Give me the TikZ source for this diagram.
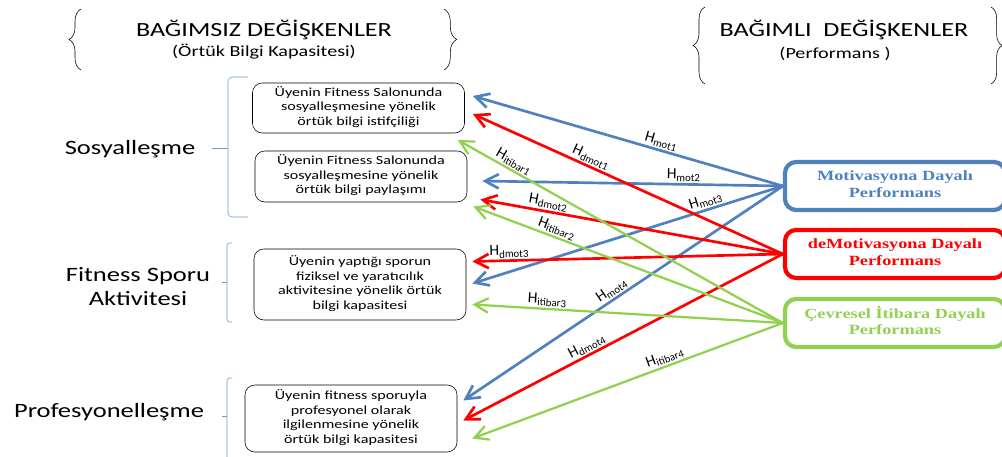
\documentclass[tikz,border=0pt]{standalone}
\usepackage{fontspec}
\setmainfont{Carlito}
\newfontfamily\timesfont{Liberation Serif}
\usepackage{graphicx}
\usetikzlibrary{arrows.meta,calc,decorations.pathreplacing}

\definecolor{motblue}{HTML}{4F81BD}
\definecolor{dmotred}{HTML}{FF0000}
\definecolor{itbgreen}{HTML}{92D050}
\definecolor{brkblue}{HTML}{6A9AD0}

% text in the reference is stretched sideways
\newcommand{\widetxt}[1]{\scalebox{1.3}[1]{\begin{tabular}{@{}c@{}}#1\end{tabular}}}

\tikzset{
  head/.style={inner sep=0pt, font=\fontsize{14.3}{17}\selectfont},
  subhead/.style={inner sep=0pt, font=\fontsize{11}{13}\selectfont},
  grouplab/.style={inner sep=0pt, font=\fontsize{14.5}{17}\selectfont},
  leftbox/.style={draw, thin, rounded corners=7pt, minimum width=5.3cm, inner sep=1pt, font=\fontsize{8.8}{10.3}\selectfont},
  perfbox/.style={draw, line width=3pt, rounded corners=8pt, minimum width=5.5cm, minimum height=1.2cm, inner sep=1pt, font=\timesfont\bfseries\fontsize{10}{12}\selectfont},
  hyp/.style={line width=1.9pt, ->},
  hlab/.style={sloped, above, inner sep=1pt, text=black, font=\fontsize{11}{12}\selectfont},
  brk/.style={draw=brkblue, thin},
  cbrace/.style={decorate, decoration={brace, amplitude=#1}, thin},
}

\begin{document}
\begin{tikzpicture}[x=0.025cm, y=-0.025cm, >={Straight Barb[length=3.4mm,width=3.6mm]}]
  \useasboundingbox (0,0) rectangle (1002,457);

  % headers
  \node[head] (indep) at (264,32) {\widetxt{BAĞIMSIZ DEĞİŞKENLER}};
  \node[subhead] (indepsub) at (264,53) {\widetxt{(Örtük Bilgi Kapasitesi)}};
  \draw[cbrace=8.5pt] (81,70) -- (81,9);
  \draw[cbrace=9pt] (444,9) -- (444,70);
  \node[head] (dep) at (844,32) {\widetxt{BAĞIMLI\ \ DEĞİŞKENLER}};
  \node[subhead] (depsub) at (835,55) {\widetxt{(Performans )}};
  \draw[cbrace=8.5pt] (705,84) -- (705,7);
  \draw[cbrace=8pt] (991,7) -- (991,84);

  % groups on the left
  \node[grouplab] (sos) at (130,150) {\widetxt{Sosyalleşme}};
  \node[grouplab] (fit) at (138,289) {\widetxt{Fitness Sporu\\Aktivitesi}};
  \node[grouplab] (pro) at (109,413) {\widetxt{Profesyonelleşme}};
  \draw[brk, rounded corners=3pt] (248,77) -- (228,77) -- (228,217) -- (248,217);
  \draw[brk] (228,148) -- (212,148);
  \draw[brk, rounded corners=2pt] (232,243) -- (227,243) -- (227,322) -- (232,322);
  \draw[brk] (227,282) -- (222,282);
  \draw[brk, rounded corners=2pt] (232,378) -- (227,378) -- (227,462);
  \draw[brk] (227,416) -- (222,416);

  % knowledge boxes
  \node[leftbox, minimum height=1.25cm] (b1) at (358.5,108)
    {\widetxt{Üyenin Fitness Salonunda\\sosyalleşmesine yönelik\\örtük bilgi istifçiliği}};
  \node[leftbox, minimum height=1.275cm] (b2) at (361,176.5)
    {\widetxt{Üyenin Fitness Salonunda\\sosyalleşmesine yönelik\\örtük bilgi paylaşımı}};
  \node[leftbox, minimum height=1.775cm] (b3) at (360,284.5)
    {\widetxt{Üyenin yaptığı sporun\\fiziksel ve yaratıcılık\\aktivitesine yönelik örtük\\bilgi kapasitesi}};
  \node[leftbox, minimum height=1.675cm] (b4) at (351,418.5)
    {\widetxt{Üyenin fitness sporuyla\\profesyonel olarak\\ilgilenmesine yönelik\\örtük bilgi kapasitesi}};

  % performance boxes
  \node[perfbox, motblue] (mot) at (895,186) {\widetxt{Motivasyona Dayalı\\Performans}};
  \node[perfbox, dmotred] (dmot) at (895,254) {\widetxt{deMotivasyona Dayalı\\Performans}};
  \node[perfbox, itbgreen] (itb) at (895,323) {\widetxt{Çevresel İtibara Dayalı\\Performans}};

  % hypotheses
  \draw[hyp, motblue] (mot.west) -- ($(b1.east)+(8,-12)$) node[hlab, pos=0.4] {H\textsubscript{mot1}};
  \draw[hyp, motblue] (mot.west) -- ($(b2.east)+(15,4.5)$) node[hlab, pos=0.33] {H\textsubscript{mot2}};
  \draw[hyp, motblue] (mot.west) -- ($(b3.east)+(6,-1)$) node[hlab, pos=0.24] {H\textsubscript{mot3}};
  \draw[hyp, motblue] (mot.west) -- ($(b4.east)+(6,-18)$) node[hlab, pos=0.52] {H\textsubscript{mot4}};

  \draw[hyp, dmotred] (dmot.west) -- ($(b1.east)+(8,6)$) node[hlab, pos=0.63] {H\textsubscript{dmot1}};
  \draw[hyp, dmotred] (dmot.west) -- ($(b2.east)+(13,23)$) node[hlab, pos=0.78] {H\textsubscript{dmot2}};
  \draw[hyp, dmotred] (dmot.west) -- ($(b3.east)+(6,-23)$) node[hlab, pos=0.88] {H\textsubscript{dmot3}};
  \draw[hyp, dmotred] (dmot.west) -- ($(b4.east)+(6,2)$) node[hlab, pos=0.6] {H\textsubscript{dmot4}};

  \draw[hyp, itbgreen, line width=1.6pt] (itb.west) -- ($(b1.east)+(-7,32)$) node[hlab, pos=0.84] {H\textsubscript{itibar1}};
  \draw[hyp, itbgreen, line width=1.6pt] (itb.west) -- ($(b2.east)+(6,30)$) node[hlab, pos=0.74] {H\textsubscript{itibar2}};
  \draw[hyp, itbgreen, line width=1.6pt] (itb.west) -- ($(b3.east)+(6,20)$) node[hlab, pos=0.76] {H\textsubscript{itibar3}};
  \draw[hyp, itbgreen, line width=1.6pt] (itb.west) -- ($(b4.east)+(15,20)$) node[hlab, pos=0.37] {H\textsubscript{itibar4}};
\end{tikzpicture}
\end{document}
